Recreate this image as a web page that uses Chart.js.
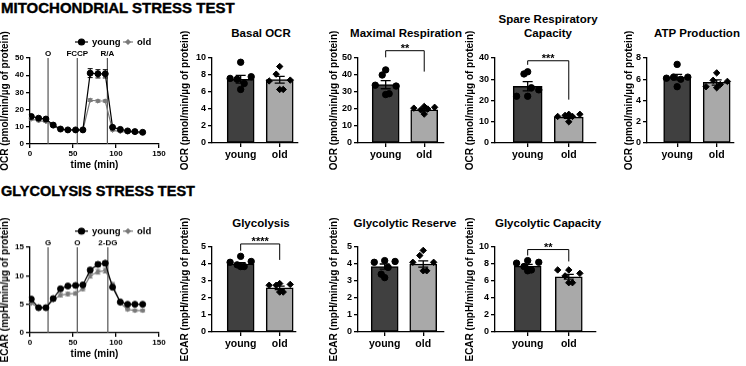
<!DOCTYPE html>
<html>
<head>
<meta charset="utf-8">
<script src="https://cdn.jsdelivr.net/npm/chart.js@4.4.1/dist/chart.umd.min.js"></script>
<style>
body { margin: 0; width: 746px; height: 366px; background: #fff; position: relative; overflow: hidden;
       font-family: "Liberation Sans", Arial, Helvetica, sans-serif; font-weight: bold; color: #000; }
canvas { position: absolute; }
.t { position: absolute; white-space: nowrap; transform: translate(-50%, -50%); font-size: 11.5px; line-height: 14px; text-align: center; }
.h { position: absolute; white-space: nowrap; left: 1px; font-size: 15px; line-height: 17px; -webkit-text-stroke: 0.4px #000; }
</style>
</head>
<body>
<div class="h" style="top:-1px">MITOCHONDRIAL STRESS TEST</div>
<div class="h" style="top:183px;font-size:14.5px">GLYCOLYSIS STRESS TEST</div>
<div class="t" style="left:261px;top:33px">Basal OCR</div>
<div class="t" style="left:406px;top:33px">Maximal Respiration</div>
<div class="t" style="left:548px;top:26px">Spare Respiratory<br>Capacity</div>
<div class="t" style="left:697px;top:33px">ATP Production</div>
<div class="t" style="left:261px;top:223px">Glycolysis</div>
<div class="t" style="left:405px;top:223px">Glycolytic Reserve</div>
<div class="t" style="left:548px;top:223px">Glycolytic Capacity</div>
<script>
// ---- data ----
const groups = ['young', 'old'];

// seahorse time course (min)
const times = [1.5, 10, 18.5, 27, 35.5, 44, 53, 61.5, 70, 79, 87.5, 96, 105, 113.5, 122, 131];

const ocrYoung = [16, 15, 14.5, 11, 8.7, 8.2, 8.2, 8.2, 41.2, 40.8, 40.8, 9.7, 8.5, 7.6, 7.2, 6.8];
const ocrYoungSem = [1.0, 0.9, 0.9, 0.7, 0.6, 0.6, 0.6, 0.6, 2.6, 2.4, 2.4, 1.0, 0.8, 0.7, 0.7, 0.7];
const ocrOld = [14.5, 13.5, 13, 10.5, 8.3, 8, 8, 8, 25.5, 25, 25, 8, 7.2, 7, 6.6, 6.5];
const ocrOldSem = [0.6, 0.5, 0.5, 0.4, 0.4, 0.3, 0.3, 0.3, 0.8, 0.7, 0.7, 0.4, 0.3, 0.3, 0.3, 0.3];
const mitoInjections = ['O', 'FCCP', 'R/A'];
const mitoInjectionTimes = [21, 55, 90];

const ecarYoung = [5.9, 4.4, 4.4, 6.0, 7.7, 8.2, 8.3, 8.4, 11.0, 12.0, 12.2, 8.0, 5.4, 5.0, 5.0, 5.0];
const ecarYoungSem = [0.3, 0.2, 0.2, 0.3, 0.3, 0.3, 0.3, 0.3, 0.4, 0.4, 0.4, 0.3, 0.2, 0.2, 0.2, 0.2];
const ecarOld = [5.2, 4.4, 4.4, 5.8, 6.6, 6.8, 6.9, 7.7, 10.0, 10.7, 10.9, 8.5, 5.2, 4.1, 3.9, 3.9];
const ecarOldSem = [0.2, 0.2, 0.2, 0.2, 0.3, 0.3, 0.3, 0.3, 0.4, 0.4, 0.4, 0.3, 0.2, 0.2, 0.2, 0.2];
const glycoInjections = ['G', 'O', '2-DG'];
const glycoInjectionTimes = [21, 55, 90.5];

// bar panels: individual animals, bar means, SEM
const basalYoung = [9.5, 7.6, 7.8, 7.5, 7.0, 6.3];
const basalOld = [9.0, 7.3, 7.4, 8.1, 6.3, 6.3];
const basalMean = [7.5, 7.45];
const basalSem = [0.45, 0.4];

const maximalYoung = [43, 34, 33.5, 40, 29, 28.5];
const maximalOld = [21.5, 20.5, 21, 19.5, 20, 17];
const maximalMean = [34.3, 19.5];
const maximalSem = [2.4, 0.7];

const spareYoung = [33.5, 22, 25, 32.5, 26, 22];
const spareOld = [13.5, 12.5, 13.5, 13, 12.5, 10];
const spareMean = [26.7, 12.2];
const spareSem = [2.2, 0.6];

const atpYoung = [7.4, 6.1, 6.2, 6.2, 6.0, 5.3];
const atpOld = [6.6, 5.3, 5.8, 5.9, 5.5, 5.2];
const atpMean = [6.2, 5.7];
const atpSem = [0.25, 0.25];

const glycolysisYoung = [4.45, 4.1, 4.15, 3.95, 3.85, 3.85];
const glycolysisOld = [2.85, 2.75, 2.8, 2.75, 2.35, 2.35];
const glycolysisMean = [4.0, 2.6];
const glycolysisSem = [0.08, 0.1];

const reserveYoung = [4.2, 4.1, 4.15, 3.4, 3.8, 3.2];
const reserveOld = [4.8, 4.1, 4.1, 4.5, 3.6, 3.6];
const reserveMean = [3.85, 4.0];
const reserveSem = [0.15, 0.18];

const capacityYoung = [8.4, 8.1, 8.2, 7.7, 7.3, 7.2];
const capacityOld = [7.3, 7.3, 6.9, 6.6, 5.8, 5.8];
const capacityMean = [7.75, 6.5];
const capacitySem = [0.2, 0.28];

const ocrTitle = 'OCR (pmol/min/µg of protein)';
const ecarTitle = 'ECAR (mpH/min/µg of protein)';

// ---- drawing ----
Chart.defaults.font.family = '"Liberation Sans", Arial, Helvetica, sans-serif';
Chart.defaults.font.weight = 'bold';
Chart.defaults.color = '#000';
Chart.defaults.animation = false;

const youngFill = '#404040';
const oldFill = '#a9a9a9';
const oldLine = '#7a7a7a';
const jitter = [0, -0.27, 0.27, -0.09, 0.09, 0];

function place(left, top, w, h) {
  const c = document.createElement('canvas');
  c.width = w; c.height = h;
  c.style.left = left + 'px'; c.style.top = top + 'px';
  c.style.width = w + 'px'; c.style.height = h + 'px';
  document.body.appendChild(c);
  return c;
}

function axisLook() {
  return {
    offset: false,
    grid: { display: true, offset: false, drawOnChartArea: false, drawTicks: true, tickLength: 4, color: '#000', lineWidth: 1.3 },
    border: { display: true, color: '#000', width: 1.3 }
  };
}

function timePanel(o) {
  const padTop = 36, padRight = 10, padBottom = 8, xH = 27;
  const left = o.labelX - 6, top = o.y0 - padTop;
  const yW = o.x0 - left;
  const cv = place(left, top, o.x1 - left + padRight, o.y1 - top + xH + padBottom);
  const pts = arr => arr.map((v, i) => ({ x: times[i], y: v }));

  const extras = {
    id: 'extras',
    beforeDatasetsDraw(chart) {
      const ctx = chart.ctx, ca = chart.chartArea, xs = chart.scales.x, ys = chart.scales.y;
      ctx.save();
      // injection lines
      ctx.strokeStyle = '#555';
      ctx.lineWidth = 1.2;
      ctx.fillStyle = '#000';
      ctx.font = 'bold 8px "Liberation Sans", Arial, sans-serif';
      ctx.textAlign = 'center';
      ctx.textBaseline = 'alphabetic';
      o.injT.forEach((t, i) => {
        const x = xs.getPixelForValue(t);
        ctx.beginPath(); ctx.moveTo(x, ca.top); ctx.lineTo(x, ca.bottom); ctx.stroke();
        ctx.fillText(o.inj[i], x, ca.top - 2);
      });
      // SEM whiskers
      [[o.young, o.youngSem, '#000'], [o.old, o.oldSem, oldLine]].forEach(([vals, sem, col]) => {
        ctx.strokeStyle = col; ctx.lineWidth = 1;
        vals.forEach((v, i) => {
          const x = xs.getPixelForValue(times[i]);
          const a = ys.getPixelForValue(v + sem[i]), b = ys.getPixelForValue(v - sem[i]);
          ctx.beginPath();
          ctx.moveTo(x, a); ctx.lineTo(x, b);
          ctx.moveTo(x - 2.5, a); ctx.lineTo(x + 2.5, a);
          ctx.moveTo(x - 2.5, b); ctx.lineTo(x + 2.5, b);
          ctx.stroke();
        });
      });
      ctx.restore();
    },
    afterDraw(chart) {
      const ctx = chart.ctx, ca = chart.chartArea;
      const ly = ca.top - 16, lx = ca.left;
      ctx.save();
      ctx.font = 'bold 9.5px "Liberation Sans", Arial, sans-serif';
      ctx.textBaseline = 'middle';
      ctx.textAlign = 'left';
      const item = (x0, x1, col, style, r, label) => {
        ctx.strokeStyle = col; ctx.fillStyle = col; ctx.lineWidth = 1.2;
        ctx.beginPath(); ctx.moveTo(x0, ly); ctx.lineTo(x1, ly); ctx.stroke();
        Chart.helpers.drawPoint(ctx, { pointStyle: style, radius: r, rotation: 0, borderWidth: 1 }, (x0 + x1) / 2, ly);
        ctx.fillStyle = '#000';
        ctx.fillText(label, x1 + 4, ly + 0.5);
      };
      item(lx + 45, lx + 58, '#000', 'circle', 3, groups[0]);
      item(lx + 93, lx + 103, oldLine, 'rectRot', 2.2, groups[1]);
      ctx.restore();
    }
  };

  new Chart(cv, {
    type: 'line',
    data: {
      datasets: [
        { data: pts(o.young), borderColor: '#000', backgroundColor: '#000', borderWidth: 1.2,
          pointStyle: 'circle', pointRadius: 3, pointBorderWidth: 1, order: 1 },
        { data: pts(o.old), borderColor: oldLine, backgroundColor: oldLine, borderWidth: 1.2,
          pointStyle: 'rectRot', pointRadius: 2.2, pointBorderWidth: 1, order: 2 }
      ]
    },
    options: {
      responsive: false,
      devicePixelRatio: 1,
      layout: { padding: { top: padTop, right: padRight, left: 0, bottom: padBottom } },
      plugins: { legend: { display: false }, tooltip: { enabled: false } },
      scales: {
        x: Object.assign({
          type: 'linear', min: 0, max: 150,
          ticks: { stepSize: 50, font: { size: 8 }, padding: 1, maxRotation: 0 },
          title: { display: true, text: 'time (min)', font: { size: 10 }, padding: 0 },
          afterFit(s) { s.height = xH; }
        }, axisLook()),
        y: Object.assign({
          min: 0, max: o.yMax,
          ticks: { stepSize: o.yStep, font: { size: 8 }, padding: 2 },
          title: { display: true, text: o.yTitle, font: { size: 10 }, padding: 0 },
          afterFit(s) { s.width = yW; }
        }, axisLook())
      }
    },
    plugins: [extras]
  });
}

function barPanel(o) {
  const padTop = 36, padRight = 4, padBottom = 14, xH = 22;
  const left = o.labelX - 6, top = o.y0 - padTop;
  const yW = o.x0 - left;
  const gap = o.cO - o.cY;
  const xMin = (o.x0 - o.cY) / gap, xMax = (o.x1 - o.cY) / gap;
  const cv = place(left, top, o.x1 - left + padRight, o.y1 - top + xH + padBottom);
  const pts = (arr, g) => arr.map((v, i) => ({ x: g + jitter[i % jitter.length], y: v }));

  const extras = {
    id: 'extras',
    afterDatasetDraw(chart, args) {
      if (args.meta.type !== 'bar') return;
      const ctx = chart.ctx, xs = chart.scales.x, ys = chart.scales.y;
      ctx.save();
      ctx.strokeStyle = '#000'; ctx.lineWidth = 1.3;
      o.mean.forEach((m, g) => {
        const x = xs.getPixelForValue(g);
        const a = ys.getPixelForValue(m + o.sem[g]), b = ys.getPixelForValue(m - o.sem[g]);
        ctx.beginPath();
        ctx.moveTo(x, a); ctx.lineTo(x, b);
        ctx.moveTo(x - 5, a); ctx.lineTo(x + 5, a);
        ctx.moveTo(x - 5, b); ctx.lineTo(x + 5, b);
        ctx.stroke();
      });
      ctx.restore();
    },
    afterDraw(chart) {
      if (!o.bracket) return;
      const ctx = chart.ctx, xs = chart.scales.x, ys = chart.scales.y;
      const xa = xs.getPixelForValue(0), xb = xs.getPixelForValue(1);
      const yt = ys.getPixelForValue(o.bracket[0]);
      const yl = ys.getPixelForValue(o.bracket[1]);
      const yr = ys.getPixelForValue(o.bracket[2]);
      ctx.save();
      ctx.strokeStyle = '#000'; ctx.lineWidth = 1;
      ctx.beginPath();
      ctx.moveTo(xa, yl); ctx.lineTo(xa, yt); ctx.lineTo(xb, yt); ctx.lineTo(xb, yr);
      ctx.stroke();
      ctx.fillStyle = '#000';
      ctx.font = 'bold 11px "Liberation Sans", Arial, sans-serif';
      ctx.textAlign = 'center';
      ctx.textBaseline = 'alphabetic';
      ctx.fillText(o.stars, (xa + xb) / 2, yt + 1);
      ctx.restore();
    }
  };

  new Chart(cv, {
    type: 'bar',
    data: {
      datasets: [
        { type: 'scatter', data: pts(o.young, 0), pointStyle: 'circle', pointRadius: 3.2,
          backgroundColor: '#000', borderColor: '#000', order: 1 },
        { type: 'scatter', data: pts(o.old, 1), pointStyle: 'rectRot', pointRadius: 3.2,
          backgroundColor: '#000', borderColor: '#000', order: 1 },
        { type: 'bar', data: o.mean.map((m, g) => ({ x: g, y: m })),
          backgroundColor: [youngFill, oldFill], borderColor: '#000', borderWidth: 1.5,
          borderSkipped: false, barThickness: o.barW, order: 2 }
      ]
    },
    options: {
      responsive: false,
      devicePixelRatio: 1,
      layout: { padding: { top: padTop, right: padRight, left: 0, bottom: padBottom } },
      plugins: { legend: { display: false }, tooltip: { enabled: false } },
      scales: {
        x: Object.assign({
          type: 'linear', min: xMin, max: xMax,
          afterBuildTicks(s) { s.ticks = groups.map((g, i) => ({ value: i })); },
          ticks: { font: { size: 10.5 }, padding: 2, maxRotation: 0, autoSkip: false,
                   callback: v => groups[v] },
          afterFit(s) { s.height = xH; }
        }, axisLook()),
        y: Object.assign({
          min: 0, max: o.yMax,
          ticks: { stepSize: o.yStep, font: { size: 9 }, padding: 2 },
          title: { display: true, text: o.yTitle, font: { size: 10 }, padding: 0 },
          afterFit(s) { s.width = yW; }
        }, axisLook())
      }
    },
    plugins: [extras]
  });
}

// top row: mitochondrial stress test
timePanel({ labelX: 5, x0: 30, x1: 159, y0: 58, y1: 144, yMax: 50, yStep: 10, yTitle: ocrTitle,
  young: ocrYoung, youngSem: ocrYoungSem, old: ocrOld, oldSem: ocrOldSem,
  inj: mitoInjections, injT: mitoInjectionTimes });

barPanel({ labelX: 185, x0: 212, cY: 241, cO: 280.5, x1: 299, y0: 58, y1: 143, barW: 27,
  yMax: 10, yStep: 2, yTitle: ocrTitle, young: basalYoung, old: basalOld, mean: basalMean, sem: basalSem });

barPanel({ labelX: 334, x0: 358, cY: 386, cO: 425, x1: 445, y0: 58, y1: 143, barW: 27,
  yMax: 50, yStep: 10, yTitle: ocrTitle, young: maximalYoung, old: maximalOld, mean: maximalMean, sem: maximalSem,
  bracket: [54.3, 50.4, 42], stars: '**' });

barPanel({ labelX: 470, x0: 495, cY: 528, cO: 569.5, x1: 597, y0: 58, y1: 143, barW: 29,
  yMax: 40, yStep: 10, yTitle: ocrTitle, young: spareYoung, old: spareOld, mean: spareMean, sem: spareSem,
  bracket: [38.7, 36.8, 20.4], stars: '***' });

barPanel({ labelX: 629, x0: 647, cY: 677.5, cO: 717.5, x1: 735, y0: 58, y1: 143, barW: 27,
  yMax: 8, yStep: 2, yTitle: ocrTitle, young: atpYoung, old: atpOld, mean: atpMean, sem: atpSem });

// bottom row: glycolysis stress test
timePanel({ labelX: 5, x0: 30, x1: 159, y0: 247, y1: 332.5, yMax: 15, yStep: 5, yTitle: ecarTitle,
  young: ecarYoung, youngSem: ecarYoungSem, old: ecarOld, oldSem: ecarOldSem,
  inj: glycoInjections, injT: glycoInjectionTimes });

barPanel({ labelX: 185, x0: 212, cY: 241, cO: 280.5, x1: 297, y0: 247, y1: 332, barW: 27,
  yMax: 5, yStep: 1, yTitle: ecarTitle, young: glycolysisYoung, old: glycolysisOld,
  mean: glycolysisMean, sem: glycolysisSem, bracket: [5.18, 4.78, 4.24], stars: '****' });

barPanel({ labelX: 334, x0: 358, cY: 385, cO: 424, x1: 445, y0: 247, y1: 332, barW: 27,
  yMax: 5, yStep: 1, yTitle: ecarTitle, young: reserveYoung, old: reserveOld,
  mean: reserveMean, sem: reserveSem });

barPanel({ labelX: 470, x0: 495, cY: 528, cO: 569.5, x1: 597, y0: 247, y1: 332, barW: 27,
  yMax: 10, yStep: 2, yTitle: ecarTitle, young: capacityYoung, old: capacityOld,
  mean: capacityMean, sem: capacitySem, bracket: [9.7, 9.0, 8.3], stars: '**' });
</script>
</body>
</html>
